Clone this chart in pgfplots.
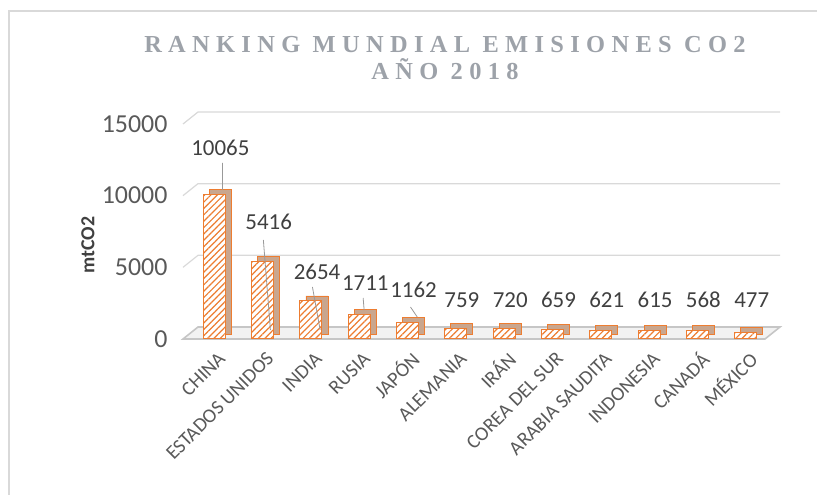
\documentclass[border=0pt]{standalone}
\usepackage{fontspec}
\setmainfont{Carlito}
\newfontfamily\titlefont[LetterSpace=26]{Liberation Serif}
\usepackage{pgfplots}
\pgfplotsset{compat=1.18}
\usetikzlibrary{patterns.meta}
\definecolor{barorange}{HTML}{ED7D31}
\definecolor{barside}{HTML}{C9A68E}
\definecolor{txtgray}{HTML}{595959}
\definecolor{lblgray}{HTML}{404040}
\definecolor{gridgray}{HTML}{D9D9D9}
\definecolor{titlegray}{HTML}{9DA2A9}
\begin{document}
\begin{tikzpicture}[x=1bp,y=1bp]
\useasboundingbox (-183,-156) rectangle (634,339);
\draw[gridgray, line width=1.2bp] (-174,-170) -- (-174,328) -- (650,328);
\node[titlegray, align=center, font=\titlefont\bfseries\fontsize{24.5}{27}\selectfont] at (262,281) {RANKING MUNDIAL EMISIONES CO2\\AÑO 2018};
\node[lblgray, rotate=90, font=\bfseries\fontsize{20}{22}\selectfont] at (-95,94) {mtCO2};
\begin{axis}[
  at={(0,0)}, anchor=south west,
  scale only axis, width=582bp, height=215bp,
  xmin=-0.65, xmax=11.4, ymin=0, ymax=15000,
  clip=false,
  unbounded coords=jump,
  axis line style={draw=none}, major tick length=0pt,
  ytick={0,5000,10000,15000},
  scaled y ticks=false,
  /pgf/number format/set thousands separator={},
  /pgf/number format/assume math mode=true,
  yticklabel style={font=\fontsize{26}{28}\selectfont, text=txtgray, xshift=-12bp},
  xtick={0,...,11},
  xticklabels={CHINA, ESTADOS UNIDOS, INDIA, RUSIA, JAPÓN, ALEMANIA, IRÁN, COREA DEL SUR, ARABIA SAUDITA, INDONESIA, CANADÁ, MÉXICO},
  xticklabel style={rotate=45, anchor=east, font=\fontsize{20}{22}\selectfont, text=txtgray, xshift=-3bp, yshift=-17bp},
]
% floor
\fill[gray!10] (axis cs:-0.65,0) -- (axis cs:11.4,0) -- ++(15bp,12bp) -- ([xshift=15bp,yshift=12bp]axis cs:-0.65,0) -- cycle;
\draw[gray!45, line width=1.6bp] (axis cs:-0.65,0) -- (axis cs:11.4,0) -- ++(15bp,12bp) -- ([xshift=15bp,yshift=12bp]axis cs:-0.65,0) -- cycle;
% back grid
\pgfplotsinvokeforeach{5000,10000,15000}{
  \draw[gridgray, line width=1.2bp] (axis cs:-0.65,#1) -- ([xshift=15bp,yshift=12bp]axis cs:-0.65,#1) -- ([xshift=15bp,yshift=12bp]axis cs:11.4,#1);
}
% bar depth
\addplot[ybar, bar width=22bp, bar shift=0pt, draw=barorange, line width=0.8bp, fill=barside, xshift=6bp, yshift=5bp]
coordinates {(0,10065) (1,5416) (2,2654) (3,1711) (4,1162) (5,759) (6,720) (7,659) (8,621) (9,615) (10,568) (11,477)};
% bar front
\addplot[ybar, bar width=22bp, bar shift=0pt, draw=barorange, line width=1bp, fill=white,
  postaction={pattern color=barorange, pattern={Lines[angle=45,distance=4.5bp,line width=1.2bp]}}]
coordinates {(0,10065) (1,5416) (2,2654) (3,1711) (4,1162) (5,759) (6,720) (7,659) (8,621) (9,615) (10,568) (11,477)};
% leader lines
\addplot[gray!80, line width=0.8bp, mark=none]
coordinates {(0.166,12280) (0.166,10396) (0,nan) (1.014,6907) (1.16,628) (1,nan) (2.03,3628) (2.19,628) (2,nan) (3.08,2861) (3.1,2023) (3,nan) (4.06,2233) (4.2,1535)};
% data labels
\addplot[draw=none, mark=none, nodes near coords, point meta=explicit symbolic,
  every node near coord/.style={anchor=center, xshift=6bp, font=\fontsize{23}{26}\selectfont, text=lblgray}]
coordinates {(0,13325)[10065] (1,8163)[5416] (2,4674)[2654] (3,3907)[1711] (4,3419)[1162] (5,2721)[759] (6,2721)[720] (7,2721)[659] (8,2721)[621] (9,2721)[615] (10,2721)[568] (11,2721)[477]};
\end{axis}
\end{tikzpicture}
\end{document}
